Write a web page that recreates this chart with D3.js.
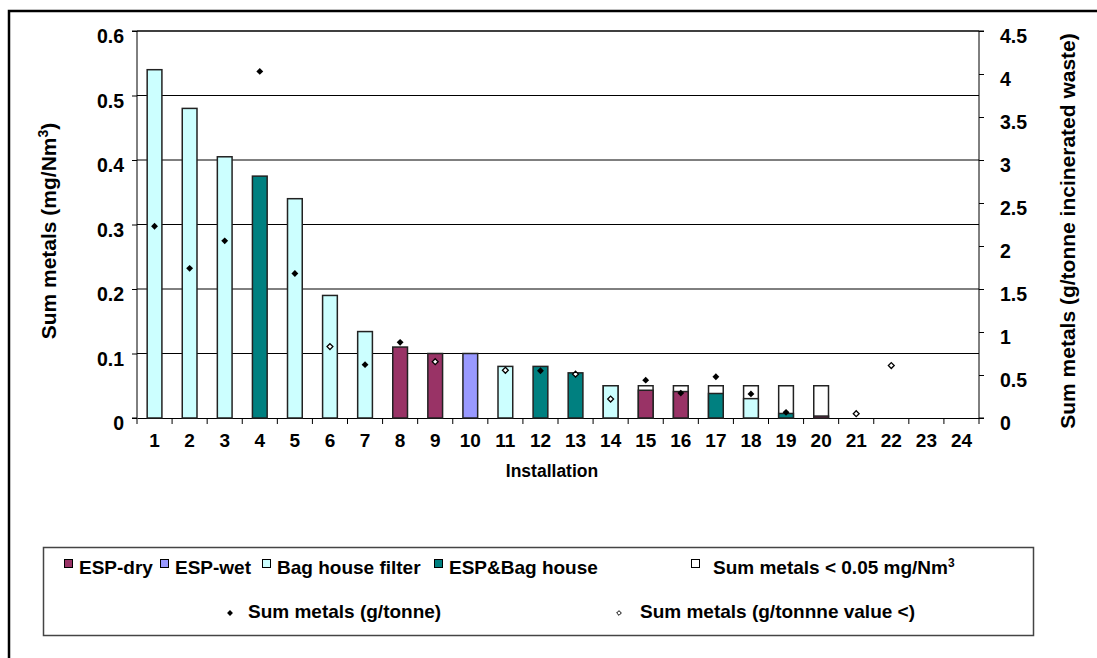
<!DOCTYPE html>
<html>
<head>
<meta charset="utf-8">
<script src="https://cdn.jsdelivr.net/npm/d3@7"></script>
<style>
  html, body { margin: 0; padding: 0; background: #fff; }
  svg text { font-family: "Liberation Sans", Arial, sans-serif; font-weight: bold; fill: #000; }
</style>
</head>
<body>
<svg id="chart" width="1097" height="658"></svg>
<script>
const installations = d3.range(1, 25).map(String);

// sum metals (mg/Nm3) per installation, null = no bar
const sumMetals = [0.54, 0.48, 0.405, 0.375, 0.34, 0.19, 0.134, 0.11, 0.1, 0.1, 0.08, 0.08,
  0.07, 0.05, 0.043, 0.041, 0.038, 0.03, 0.007, 0.003, null, null, null, null];

// abatement technology of each installation
const technology = ["bag", "bag", "bag", "espbag", "bag", "bag", "bag", "dry", "dry", "wet", "bag", "espbag",
  "espbag", "bag", "dry", "dry", "espbag", "bag", "espbag", "dry", null, null, null, null];

// installations reported as "< 0.05 mg/Nm3"
const belowLimit = [null, null, null, null, null, null, null, null, null, null, null, null,
  null, 0.05, 0.05, 0.05, 0.05, 0.05, 0.05, 0.05, null, null, null, null];

// sum metals g/tonne (right axis), measured values
const gPerTonne = [2.23, 1.74, 2.06, 4.03, 1.68, null, 0.62, 0.88, null, null, null, 0.55,
  null, null, 0.44, 0.29, 0.48, 0.28, 0.066, null, null, null, null, null];

// sum metals g/tonne, "value <" entries
const gPerTonneLess = [null, null, null, null, null, 0.83, null, null, 0.655, null, 0.555, null,
  0.51, 0.22, null, null, null, null, null, null, 0.05, 0.61, null, null];

const leftTicks = [0, 0.1, 0.2, 0.3, 0.4, 0.5, 0.6];
const rightTicks = [0, 0.5, 1, 1.5, 2, 2.5, 3, 3.5, 4, 4.5];

const colors = { dry: "#993366", wet: "#9999ff", bag: "#ccffff", espbag: "#008080" };

const svg = d3.select("#chart");

// outer frame (top and left edges are visible)
svg.append("path")
  .attr("d", "M9,658 V11 H1097")
  .attr("fill", "none").attr("stroke", "#000").attr("stroke-width", 2.5);

const plot = { left: 137, right: 979, top: 31, bottom: 418 };

const x = d3.scaleBand().domain(installations).range([plot.left, plot.right]).padding(0);
const y = d3.scaleLinear().domain([0, 0.6]).range([plot.bottom, plot.top]);
const y2 = d3.scaleLinear().domain([0, 4.5]).range([plot.bottom, plot.top]);
const barW = x.bandwidth() * 0.42;

// gridlines
svg.append("g")
  .selectAll("line")
  .data(leftTicks.slice(1))
  .join("line")
  .attr("x1", plot.left).attr("x2", plot.right)
  .attr("y1", d => y(d)).attr("y2", d => y(d))
  .attr("stroke", "#000").attr("stroke-width", d => d === 0.6 ? 1.5 : 1);

// left axis
const gl = svg.append("g").attr("transform", `translate(${plot.left},0)`)
  .call(d3.axisLeft(y).tickValues(leftTicks).tickSize(5).tickPadding(8).tickFormat(d => d === 0 ? "0" : d3.format(".1f")(d)));
gl.select(".domain").attr("stroke", "#000").attr("d", `M-5,${plot.top}H0V${plot.bottom}H-5`);
gl.selectAll("text").style("font-size", "19.5px").attr("font-family", null).attr("dy", "0.6em");

// right axis
const gr = svg.append("g").attr("transform", `translate(${plot.right},0)`)
  .call(d3.axisRight(y2).tickValues(rightTicks).tickSize(5).tickPadding(16).tickFormat(d => d3.format("~g")(d)));
gr.select(".domain").attr("stroke", "#000").attr("d", `M5,${plot.top}H0V${plot.bottom}H5`);
gr.selectAll("text").style("font-size", "19.5px").attr("font-family", null).attr("dy", "0.6em");

// bottom axis: ticks between categories
const gb = svg.append("g").attr("transform", `translate(0,${plot.bottom})`)
  .call(d3.axisBottom(x).tickSize(0).tickPadding(16));
gb.select(".domain").attr("stroke", "#000");
gb.selectAll("text").style("font-size", "19px").attr("font-family", null);
gb.append("g").selectAll("line")
  .data(installations.concat(["end"]))
  .join("line")
  .attr("x1", (d, i) => plot.left + i * x.step()).attr("x2", (d, i) => plot.left + i * x.step())
  .attr("y1", 0).attr("y2", 6)
  .attr("stroke", "#000");

// "< 0.05" white bars
svg.append("g").selectAll("rect")
  .data(installations.map((k, i) => ({ k, v: belowLimit[i] })).filter(d => d.v != null))
  .join("rect")
  .attr("x", d => x(d.k) + x.bandwidth() / 2 - barW / 2)
  .attr("width", barW)
  .attr("y", d => y(d.v))
  .attr("height", d => y(0) - y(d.v))
  .attr("fill", "#fff").attr("stroke", "#222").attr("stroke-width", 1.5);

// technology bars
svg.append("g").selectAll("rect")
  .data(installations.map((k, i) => ({ k, v: sumMetals[i], t: technology[i] })).filter(d => d.v != null))
  .join("rect")
  .attr("x", d => x(d.k) + x.bandwidth() / 2 - barW / 2)
  .attr("width", barW)
  .attr("y", d => y(d.v))
  .attr("height", d => y(0) - y(d.v))
  .attr("fill", d => colors[d.t]).attr("stroke", "#222").attr("stroke-width", 1.5);

const diamond = d3.symbol().type(d3.symbolDiamond2);

svg.append("g").selectAll("path")
  .data(installations.map((k, i) => ({ k, v: gPerTonne[i] })).filter(d => d.v != null))
  .join("path")
  .attr("transform", d => `translate(${x(d.k) + x.bandwidth() / 2},${y2(d.v)})`)
  .attr("d", diamond.size(30))
  .attr("fill", "#000");

svg.append("g").selectAll("path")
  .data(installations.map((k, i) => ({ k, v: gPerTonneLess[i] })).filter(d => d.v != null))
  .join("path")
  .attr("transform", d => `translate(${x(d.k) + x.bandwidth() / 2},${y2(d.v)})`)
  .attr("d", diamond.size(22))
  .attr("fill", "#fff").attr("stroke", "#000").attr("stroke-width", 1.3);

// axis titles
svg.append("text")
  .attr("transform", "translate(56,231) rotate(-90)")
  .attr("text-anchor", "middle").style("font-size", "21px")
  .text("Sum metals (mg/Nm")
  .call(t => t.append("tspan").attr("baseline-shift", "super").style("font-size", "14px").text("3"))
  .call(t => t.append("tspan").text(")"));

svg.append("text")
  .attr("transform", "translate(1075,231) rotate(-90)")
  .attr("text-anchor", "middle").style("font-size", "21px")
  .text("Sum metals (g/tonne incinerated waste)");

svg.append("text")
  .attr("x", (plot.left + plot.right) / 2 - 6).attr("y", 477)
  .attr("text-anchor", "middle").style("font-size", "17.5px")
  .text("Installation");

// legend
const lg = svg.append("g");
lg.append("rect")
  .attr("x", 43.5).attr("y", 547.5).attr("width", 990).attr("height", 88)
  .attr("fill", "#fff").attr("stroke", "#444").attr("stroke-width", 1.5);

const legendRow1 = [
  { label: "ESP-dry", fill: colors.dry, x: 64 },
  { label: "ESP-wet", fill: colors.wet, x: 160 },
  { label: "Bag house filter", fill: colors.bag, x: 262 },
  { label: "ESP&Bag house", fill: colors.espbag, x: 434 },
  { label: "Sum metals < 0.05 mg/Nm", fill: "#fff", x: 691, sup: "3" }
];
const items = lg.selectAll("g.item").data(legendRow1).join("g").attr("class", "item");
items.append("rect")
  .attr("x", d => d.x + 0.5).attr("y", 559.5).attr("width", 8).attr("height", 8)
  .attr("fill", d => d.fill).attr("stroke", "#000").attr("stroke-width", 1);
items.append("text")
  .attr("x", d => d.x + 15 + (d.sup ? 7 : 0)).attr("y", 574)
  .style("font-size", "19px")
  .text(d => d.label)
  .each(function (d) {
    if (d.sup) d3.select(this).append("tspan").attr("baseline-shift", "super").style("font-size", "12px").text(d.sup);
  });

lg.append("path")
  .attr("transform", "translate(230,613)")
  .attr("d", diamond.size(22)).attr("fill", "#000");
lg.append("text").attr("x", 248).attr("y", 618).style("font-size", "19px").text("Sum metals (g/tonne)");
lg.append("path")
  .attr("transform", "translate(619,613)")
  .attr("d", diamond.size(14)).attr("fill", "#fff").attr("stroke", "#000");
lg.append("text").attr("x", 640).attr("y", 618).style("font-size", "19px").text("Sum metals (g/tonnne value <)");
</script>
</body>
</html>
